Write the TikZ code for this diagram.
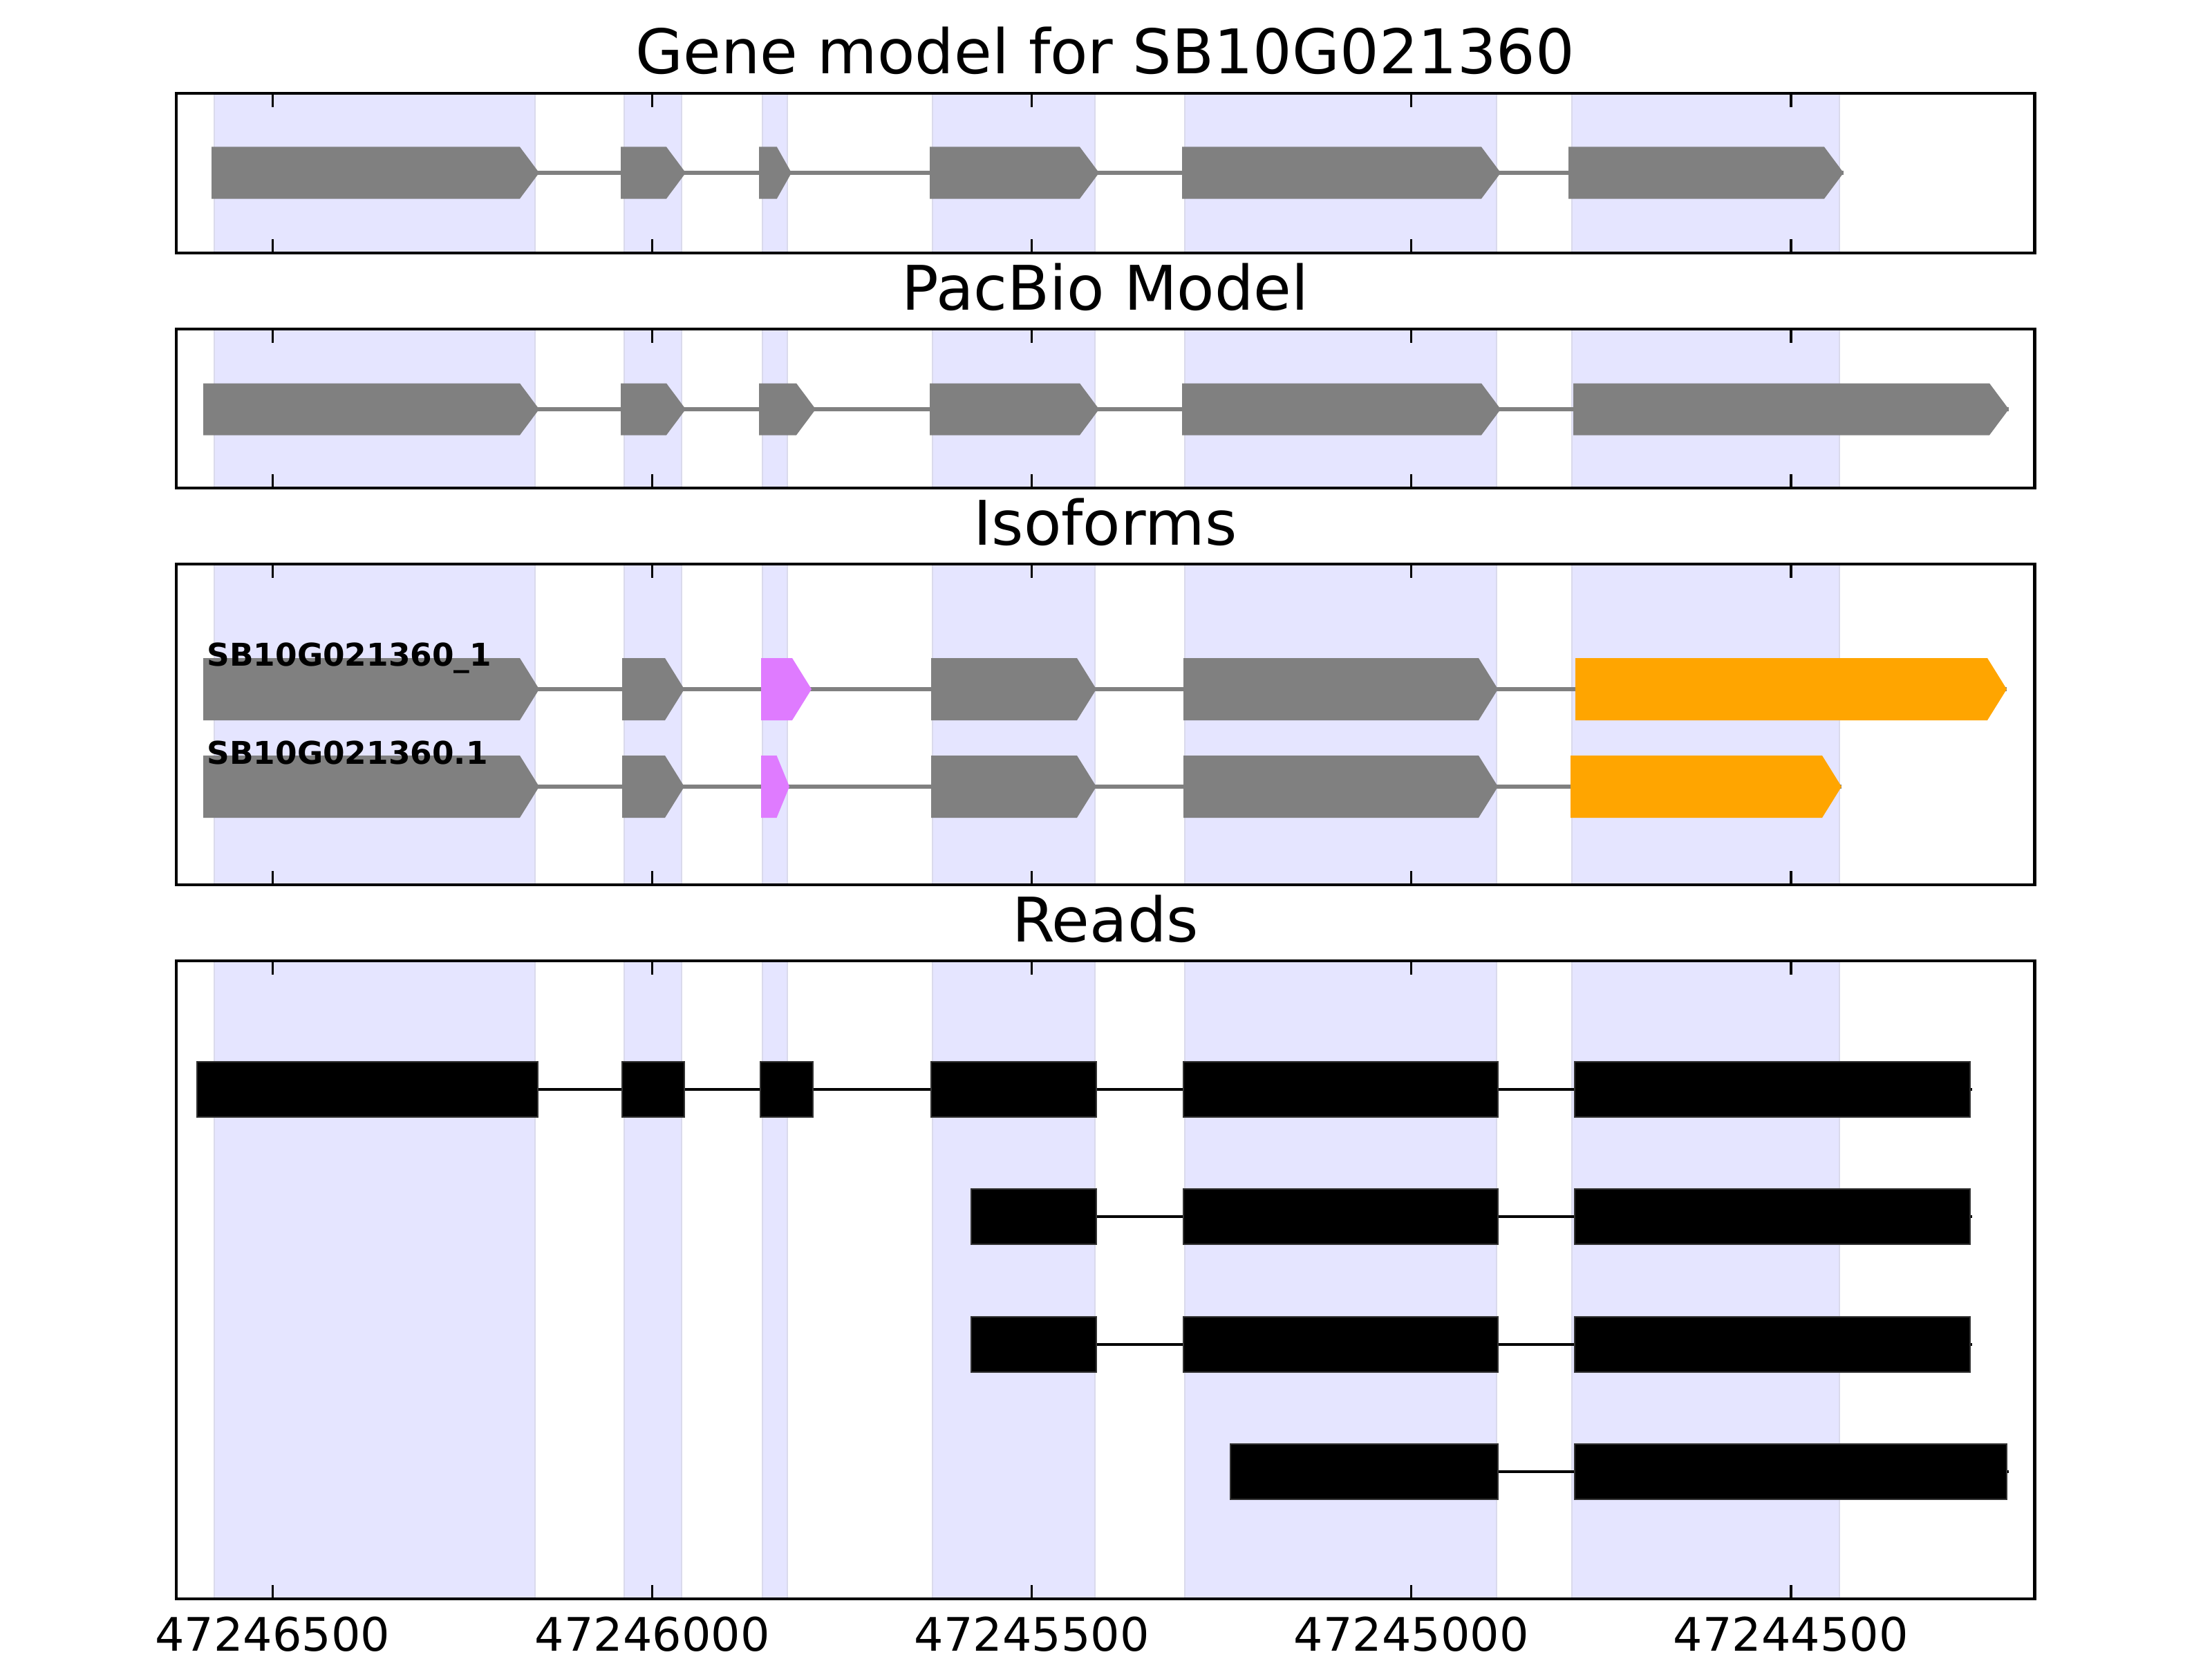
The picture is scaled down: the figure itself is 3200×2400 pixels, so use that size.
\documentclass[tikz,border=0pt]{standalone}
\usepackage{fontspec}
\setmainfont{DejaVu Sans}
\usepackage{tikz}
\usepackage{xcolor}
\definecolor{bandblue}{RGB}{229,229,255}
\definecolor{bandedge}{RGB}{218,218,236}
\definecolor{exgray}{RGB}{128,128,128}
\definecolor{exmag}{RGB}{223,123,255}
\definecolor{exorange}{RGB}{255,165,0}
\tikzset{
  band/.style={fill=bandblue, draw=bandedge, line width=0.8pt},
  frame/.style={draw=black, line width=1.4pt},
  tickmark/.style={line width=0.9pt},
  intron/.style={exgray, line width=1.7pt},
  readline/.style={black, line width=1.2pt},
  readbar/.style={fill=black, draw=black!80, line width=0.4pt},
  paneltitle/.style={anchor=base, inner sep=0pt, font=\fontsize{25.3}{30}\selectfont},
  ticklabel/.style={anchor=north, inner sep=0pt, font=\fontsize{19}{23}\selectfont},
  isolabel/.style={anchor=base west, inner sep=0pt, font=\fontsize{12.9}{15}\selectfont\bfseries}
}
% half height of an exon arrow
\def\hh{37.5}
% exon arrow: [colour] start, end, centre
\newcommand{\exon}[4][exgray]{%
  \pgfmathsetmacro{\hd}{min(28,0.45*(#3-#2))}%
  \fill[#1] (#2,#4-\hh) -- (#3-\hd,#4-\hh) -- (#3,#4) -- (#3-\hd,#4+\hh) -- (#2,#4+\hh) -- cycle;}
% read block: start, end, centre
\newcommand{\readblock}[3]{\filldraw[readbar] (#1,#3-40) rectangle (#2,#3+40);}

\begin{document}
\begin{tikzpicture}[x=0.01cm, y=-0.01cm]
\useasboundingbox (0,0) rectangle (3200,2400);
%bands
\foreach \ya/\yb in {135/366,476/706,816/1280,1390/2313}{
  \foreach \a/\b in {310/774,903/986,1103/1139,1349/1584,1714/2165,2274/2661}
    \filldraw[band] (\a,\ya) rectangle (\b,\yb);
}

%gene model
\draw[intron] (306,250) -- (2667,250);
\exon{306}{780}{250} \exon{898}{992}{250} \exon{1098}{1145}{250}
\exon{1345}{1590}{250} \exon{1710}{2171}{250} \exon{2269}{2667}{250}

%pacbio
\draw[intron] (294,592) -- (2906,592);
\exon{294}{780}{592} \exon{898}{992}{592} \exon{1098}{1180}{592}
\exon{1345}{1590}{592} \exon{1710}{2171}{592} \exon{2276}{2906}{592}

%isoforms
\def\hh{45}
\draw[intron] (294,997) -- (2903,997);
\exon{294}{780}{997} \exon{900}{990}{997} \exon[exmag]{1101}{1174}{997}
\exon{1347}{1586}{997} \exon{1712}{2167}{997} \exon[exorange]{2279}{2903}{997}
\draw[intron] (294,1138) -- (2664,1138);
\exon{294}{780}{1138} \exon{900}{990}{1138} \exon[exmag]{1101}{1142}{1138}
\exon{1347}{1586}{1138} \exon{1712}{2167}{1138} \exon[exorange]{2272}{2664}{1138}
\node[isolabel] (lbliso1) at (299,963) {SB10G021360\_1};
\node[isolabel] (lbliso2) at (299,1105) {SB10G021360.1};

%reads
\draw[readline] (285,1576) -- (2853,1576);
\readblock{285}{778}{1576} \readblock{900}{990}{1576} \readblock{1100}{1176}{1576}
\readblock{1347}{1586}{1576} \readblock{1712}{2167}{1576} \readblock{2278}{2850}{1576}
\foreach \yr in {1760,1945}{
  \draw[readline] (1405,\yr) -- (2853,\yr);
  \readblock{1405}{1586}{\yr} \readblock{1712}{2167}{\yr} \readblock{2278}{2850}{\yr}
}
\draw[readline] (1780,2129) -- (2906,2129);
\readblock{1780}{2167}{2129} \readblock{2278}{2903}{2129}

%frames and ticks
\foreach \ya/\yb in {135/366,476/706,816/1280,1390/2313}{
  \foreach \tx in {394.5,943.6,1492.7,2041.8,2590.9}{
    \draw[tickmark] (\tx,\ya) -- ++(0,20);
    \draw[tickmark] (\tx,\yb) -- ++(0,-20);
  }
  \draw[frame] (255,\ya) rectangle (2943,\yb);
}

%titles
\node[paneltitle] (ttlgene) at (1599,107) {Gene model for SB10G021360};
\node[paneltitle] (ttlpacbio) at (1599,448) {PacBio Model};
\node[paneltitle] (ttliso) at (1599,788) {Isoforms};
\node[paneltitle] (ttlreads) at (1599,1362) {Reads};

%tick labels
\foreach \tx/\lab [count=\i] in {394.5/47246500,943.6/47246000,1492.7/47245500,2041.8/47245000,2590.9/47244500}
  \node[ticklabel] (tl\i) at (\tx,2338) {\lab};
\end{tikzpicture}
\end{document}
